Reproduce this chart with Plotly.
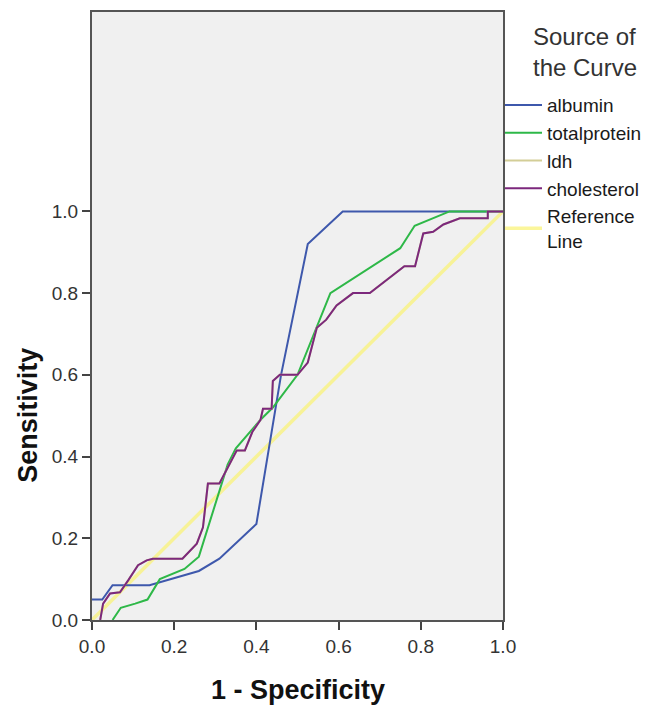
import plotly.graph_objects as go

# ---- data ----
albumin_x = [0.0, 0.025, 0.05, 0.14, 0.26, 0.31, 0.40, 0.43, 0.46, 0.525, 0.61, 1.0]
albumin_y = [0.05, 0.05, 0.085, 0.085, 0.12, 0.15, 0.235, 0.42, 0.60, 0.92, 1.0, 1.0]

totalprotein_x = [0.05, 0.07, 0.105, 0.135, 0.165, 0.225, 0.26, 0.28, 0.33, 0.35, 0.41, 0.44, 0.50, 0.58, 0.75, 0.785, 0.855, 0.87, 1.0]
totalprotein_y = [0.0, 0.03, 0.04, 0.05, 0.10, 0.125, 0.155, 0.22, 0.38, 0.42, 0.49, 0.52, 0.60, 0.80, 0.91, 0.965, 0.995, 1.0, 1.0]

cholesterol_x = [0.02, 0.027, 0.044, 0.068, 0.088, 0.112, 0.133, 0.148, 0.22, 0.255, 0.27, 0.282, 0.31, 0.352, 0.372, 0.39, 0.41, 0.416, 0.437, 0.44, 0.457, 0.50, 0.525, 0.547, 0.57, 0.595, 0.635, 0.676, 0.76, 0.786, 0.806, 0.83, 0.855, 0.895, 0.963, 0.963, 1.0]
cholesterol_y = [0.0, 0.04, 0.065, 0.068, 0.097, 0.134, 0.146, 0.15, 0.15, 0.187, 0.227, 0.334, 0.334, 0.415, 0.415, 0.46, 0.49, 0.517, 0.517, 0.585, 0.60, 0.60, 0.63, 0.715, 0.735, 0.77, 0.80, 0.80, 0.866, 0.866, 0.946, 0.95, 0.968, 0.983, 0.983, 1.0, 1.0]

# ldh is hidden beneath the cholesterol curve in the reference
ldh_x = list(cholesterol_x)
ldh_y = list(cholesterol_y)

reference_x = [0.0, 1.0]
reference_y = [0.0, 1.0]

x_ticks = [0.0, 0.2, 0.4, 0.6, 0.8, 1.0]
y_ticks = [0.0, 0.2, 0.4, 0.6, 0.8, 1.0]

legend_title = "Source of<br>the Curve"

FONT = "Liberation Sans, Arial, sans-serif"

fig = go.Figure()
fig.add_trace(go.Scatter(x=reference_x, y=reference_y, mode="lines", name="Reference<br>Line",
                         legendrank=5, line=dict(color="#FAF37A", width=3.5), opacity=0.75))
fig.add_trace(go.Scatter(x=albumin_x, y=albumin_y, mode="lines", name="albumin", legendrank=1,
                         line=dict(color="#3E58AC", width=2)))
fig.add_trace(go.Scatter(x=totalprotein_x, y=totalprotein_y, mode="lines", name="totalprotein", legendrank=2,
                         line=dict(color="#2EB848", width=2)))
fig.add_trace(go.Scatter(x=ldh_x, y=ldh_y, mode="lines", name="ldh", legendrank=3,
                         line=dict(color="#D3CE97", width=2)))
fig.add_trace(go.Scatter(x=cholesterol_x, y=cholesterol_y, mode="lines", name="cholesterol", legendrank=4,
                         line=dict(color="#7C287D", width=2)))

fig.update_layout(
    width=649, height=709,
    margin=dict(l=84, r=154, t=2, b=97),
    paper_bgcolor="white",
    plot_bgcolor="#F0F0F0",
    font=dict(family=FONT, size=16, color="#333333"),
    showlegend=True,
    legend=dict(
        x=0.9927, xanchor="left", y=0.878, yanchor="top",
        font=dict(size=19, color="#1a1a1a", family=FONT),
        itemwidth=37,
        tracegroupgap=0,
        bgcolor="rgba(0,0,0,0)",
    ),
    xaxis=dict(
        range=[0, 1], tickvals=x_ticks, tickformat=".1f",
        showgrid=False, zeroline=False,
        showline=True, linecolor="#555555", linewidth=2, mirror=True,
        ticks="outside", ticklen=8, tickwidth=2, tickcolor="#444444",
        tickfont=dict(size=19, color="#333333"),
    ),
    yaxis=dict(
        range=[0, 1.488], tickvals=y_ticks, tickformat=".1f",
        showgrid=False, zeroline=False,
        showline=True, linecolor="#555555", linewidth=2, mirror=True,
        ticks="outside", ticklen=8, tickwidth=2, tickcolor="#444444",
        tickfont=dict(size=19, color="#333333"),
    ),
    annotations=[
        dict(text=legend_title, xref="paper", yref="paper", x=1.068, y=0.9336,
             xanchor="left", yanchor="middle", align="left", showarrow=False,
             font=dict(size=24, color="#333333", family=FONT)),
        dict(text="<b>1 - Specificity</b>", xref="x", yref="paper", x=0.5, y=-0.1148,
             xanchor="center", yanchor="middle", showarrow=False,
             font=dict(size=27, color="#111111", family=FONT)),
        dict(text="<b>Sensitivity</b>", xref="paper", yref="y", x=-0.1557, y=0.5,
             xanchor="center", yanchor="middle", showarrow=False, textangle=-90,
             font=dict(size=27, color="#111111", family=FONT)),
    ],
)

fig.write_html("out.html")
